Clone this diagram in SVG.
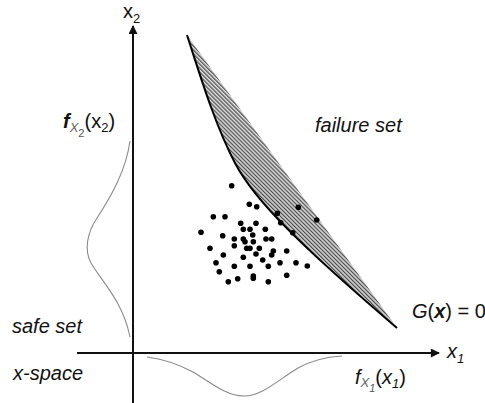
<svg xmlns="http://www.w3.org/2000/svg" width="485" height="403" viewBox="0 0 485 403">
<defs>
<style>
text{font-family:"Liberation Sans",Arial,sans-serif;fill:#111}
.lbl{font-size:20px;font-style:italic}
.sub{font-size:13px}
.axis{stroke:#111;stroke-width:2;fill:none}
.pdf{stroke:#8a8a8a;stroke-width:1.1;fill:none}
.dot{fill:#000}
</style>
<pattern id="hatch" width="2.8" height="2.8" patternUnits="userSpaceOnUse" patternTransform="rotate(-45)">
<rect width="2.8" height="2.8" fill="#dcdcdc"/>
<rect width="1.2" height="2.8" fill="#4a4a4a"/>
</pattern>
<marker id="arr" viewBox="0 0 10 10" refX="9" refY="5" markerWidth="5" markerHeight="4.5" markerUnits="strokeWidth" orient="auto">
<path d="M0,0 L10,5 L0,10 Z" fill="#111"/>
</marker>
</defs>
<rect width="485" height="403" fill="#fff"/>

<g id="failure-region">
<path d="M187,35 C200,75 215,125 235,163 C255,201 300,245 397,328 L187,35 Z" fill="url(#hatch)"/>
<path d="M187,35 C200,75 215,125 235,163 C255,201 300,245 397,328" fill="none" stroke="#000" stroke-width="2"/>
</g>

<g id="connectors">
<line class="axis" x1="133" y1="403" x2="133" y2="26" marker-end="url(#arr)"/>
<line class="axis" x1="77" y1="353" x2="439" y2="353" marker-end="url(#arr)"/>
</g>

<g id="densities">
<path class="pdf" d="M130,141 C126,170 112,195 97,218 C87,233 84,250 91,263 C103,283 123,302 130,337"/>
<path class="pdf" d="M147,357 C165,359 180,365 195,373 C215,386 228,396 244,396 C262,396 278,380 298,368 C312,360 326,357 342,356"/>
</g>

<g id="samples">
<circle class="dot" cx="231.7" cy="185.7" r="2.8"/>
<circle class="dot" cx="249.3" cy="204.3" r="2.8"/>
<circle class="dot" cx="256.7" cy="206.7" r="2.8"/>
<circle class="dot" cx="277.3" cy="213.3" r="2.8"/>
<circle class="dot" cx="298.3" cy="207.3" r="2.8"/>
<circle class="dot" cx="316.7" cy="220" r="2.8"/>
<circle class="dot" cx="280.7" cy="222.7" r="2.8"/>
<circle class="dot" cx="292.7" cy="232.7" r="2.8"/>
<circle class="dot" cx="213.3" cy="216.7" r="2.8"/>
<circle class="dot" cx="225" cy="216.7" r="2.8"/>
<circle class="dot" cx="240.7" cy="223.3" r="2.8"/>
<circle class="dot" cx="256" cy="223.3" r="2.8"/>
<circle class="dot" cx="201" cy="232.3" r="2.8"/>
<circle class="dot" cx="222.7" cy="235.7" r="2.8"/>
<circle class="dot" cx="243.3" cy="229.3" r="2.8"/>
<circle class="dot" cx="250" cy="229.3" r="2.8"/>
<circle class="dot" cx="265.3" cy="229.3" r="2.8"/>
<circle class="dot" cx="234.3" cy="239" r="2.8"/>
<circle class="dot" cx="243.3" cy="239" r="2.8"/>
<circle class="dot" cx="245" cy="241.7" r="2.8"/>
<circle class="dot" cx="252.7" cy="235" r="2.8"/>
<circle class="dot" cx="253.3" cy="241.7" r="2.8"/>
<circle class="dot" cx="266" cy="239" r="2.8"/>
<circle class="dot" cx="271.7" cy="239" r="2.8"/>
<circle class="dot" cx="234.3" cy="245.7" r="2.8"/>
<circle class="dot" cx="246.7" cy="248.3" r="2.8"/>
<circle class="dot" cx="250" cy="248.3" r="2.8"/>
<circle class="dot" cx="259.3" cy="248.3" r="2.8"/>
<circle class="dot" cx="210" cy="248.3" r="2.8"/>
<circle class="dot" cx="286.7" cy="251" r="2.8"/>
<circle class="dot" cx="273.3" cy="251" r="2.8"/>
<circle class="dot" cx="271.7" cy="255" r="2.8"/>
<circle class="dot" cx="256" cy="254" r="2.8"/>
<circle class="dot" cx="223.3" cy="255" r="2.8"/>
<circle class="dot" cx="243.3" cy="257.3" r="2.8"/>
<circle class="dot" cx="262.7" cy="260" r="2.8"/>
<circle class="dot" cx="280" cy="262.7" r="2.8"/>
<circle class="dot" cx="296" cy="262.7" r="2.8"/>
<circle class="dot" cx="307.3" cy="266" r="2.8"/>
<circle class="dot" cx="216" cy="262.7" r="2.8"/>
<circle class="dot" cx="234.3" cy="266.3" r="2.8"/>
<circle class="dot" cx="250" cy="266.3" r="2.8"/>
<circle class="dot" cx="268.3" cy="266.3" r="2.8"/>
<circle class="dot" cx="219.3" cy="271.7" r="2.8"/>
<circle class="dot" cx="253.3" cy="276" r="2.8"/>
<circle class="dot" cx="253.3" cy="278.3" r="2.8"/>
<circle class="dot" cx="286.7" cy="275.3" r="2.8"/>
<circle class="dot" cx="237.7" cy="278.7" r="2.8"/>
<circle class="dot" cx="228.3" cy="281.7" r="2.8"/>
<circle class="dot" cx="268.3" cy="281.7" r="2.8"/>
</g>

<g id="labels">
<text x="123" y="18" style="font-size:20px">x<tspan class="sub" dy="5">2</tspan></text>
<text x="447" y="358" class="lbl">x<tspan class="sub" dy="5">1</tspan></text>
<text x="315" y="132" class="lbl">failure set</text>
<text x="12" y="333" class="lbl">safe set</text>
<text x="13" y="380" class="lbl">x-space</text>
<text x="412" y="318" style="font-size:20px"><tspan font-style="italic">G</tspan>(<tspan font-style="italic" font-weight="bold">x</tspan>) = 0</text>
<text x="63" y="128" style="font-size:20px"><tspan font-style="italic" font-weight="bold">f</tspan><tspan class="sub" font-style="italic" fill="#666" dy="4">X</tspan><tspan font-size="11px" fill="#555" dy="5">2</tspan><tspan dy="-9">(x</tspan><tspan class="sub" dy="4">2</tspan><tspan dy="-4">)</tspan></text>
<text x="355" y="384" style="font-size:20px"><tspan font-style="italic">f</tspan><tspan class="sub" font-style="italic" fill="#666" dy="3">X</tspan><tspan font-size="11px" font-style="italic" fill="#555" dy="5">1</tspan><tspan dy="-8">(<tspan font-style="italic">x</tspan></tspan><tspan class="sub" font-style="italic" dy="4">1</tspan><tspan dy="-4">)</tspan></text>
</g>
</svg>
